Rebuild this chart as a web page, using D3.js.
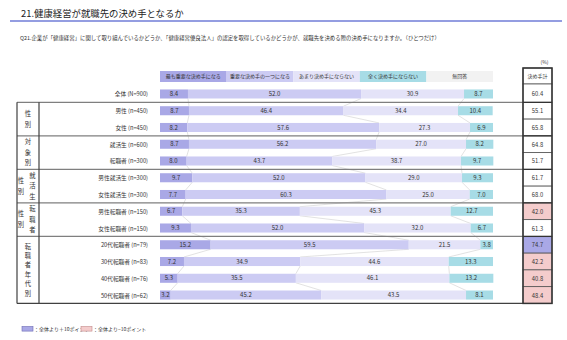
<!DOCTYPE html>
<html>
<head>
<meta charset="utf-8">
<script src="https://cdn.jsdelivr.net/npm/d3@7"></script>
<style>
  body { margin: 0; background: #fff; }
  text { font-family: "Noto Sans CJK JP", "Noto Sans", sans-serif; fill: #333; }
</style>
</head>
<body>
<div id="chart"></div>
<script>
const WIDTH = 567;
const HEIGHT = 340;

// DATA
const rowLabels = [
  "全体 (N=900)", "男性 (n=450)", "女性 (n=450)", "就活生 (n=600)", "転職者 (n=300)",
  "男性就活生 (n=300)", "女性就活生 (n=300)", "男性転職者 (n=150)", "女性転職者 (n=150)",
  "20代転職者 (n=79)", "30代転職者 (n=83)", "40代転職者 (n=76)", "50代転職者 (n=62)"
];
const categories = ["最も重要な決め手になる", "重要な決め手の一つになる", "あまり決め手にならない", "全く決め手にならない", "無回答"];
const mostImportant = [8.4, 8.7, 8.2, 8.7, 8.0, 9.7, 7.7, 6.7, 9.3, 15.2, 7.2, 5.3, 3.2];
const oneOfImportant = [52.0, 46.4, 57.6, 56.2, 43.7, 52.0, 60.3, 35.3, 52.0, 59.5, 34.9, 35.5, 45.2];
const notMuch = [30.9, 34.4, 27.3, 27.0, 38.7, 29.0, 25.0, 45.3, 32.0, 21.5, 44.6, 46.1, 43.5];
const notAtAll = [8.7, 10.4, 6.9, 8.2, 9.7, 9.3, 7.0, 12.7, 6.7, 3.8, 13.3, 13.2, 8.1];
const noAnswer = [0, 0, 0, 0, 0, 0, 0, 0, 0, 0, 0, 0, 0];
const decisiveTotal = [60.4, 55.1, 65.8, 64.8, 51.7, 61.7, 68.0, 42.0, 61.3, 74.7, 42.2, 40.8, 48.4];
const groupLabels = [["性別"], ["対象別"], ["性別", "就活生"], ["性別", "転職者"], ["転職者年代別"]];
const groupFirstRow = [1, 3, 5, 7, 9];
const groupLastRow = [2, 4, 6, 8, 12];

const COLORS = ["#a9a8e6", "#cccbf3", "#e4e3f8", "#a7dce6", "#f2f2f2"];
const PLUS_FILL = "#a9a8e6";
const MINUS_FILL = "#f4cccc";

// CANVAS
const svg = d3.select("#chart")
  .append("svg")
  .attr("width", WIDTH)
  .attr("height", HEIGHT);

// TITLE
svg.append("text")
  .attr("x", 21)
  .attr("y", 17)
  .attr("font-size", "9.4px")
  .style("fill", "#222")
  .text("21.健康経営が就職先の決め手となるか");

svg.append("line")
  .attr("x1", 10).attr("x2", 562)
  .attr("y1", 21).attr("y2", 21)
  .attr("stroke", "#2b3cc4")
  .attr("stroke-width", 1.2);

svg.append("text")
  .attr("x", 20)
  .attr("y", 40)
  .attr("font-size", "5.4px")
  .text("Q21.企業が「健康経営」に関して取り組んでいるかどうか、「健康経営優良法人」の認定を取得しているかどうかが、就職先を決める際の決め手になりますか。（ひとつだけ）");

// SCALE
const x = d3.scaleLinear().domain([0, 100]).range([160, 493]);
const y = d3.scaleBand()
  .domain(rowLabels)
  .range([85.6, 303.4])
  .paddingInner(0.46)
  .paddingOuter(0.23);
const step = y.step();
const top0 = 85.6;
const color = d3.scaleOrdinal().domain(categories).range(COLORS);
const head = d3.scaleBand().domain(categories).range([160, 493]);

// HEADER (legend cells)
const headG = svg.append("g");
headG.selectAll("rect")
  .data(categories)
  .enter()
  .append("rect")
  .attr("x", (d) => head(d))
  .attr("y", 71)
  .attr("width", head.bandwidth())
  .attr("height", 11)
  .attr("fill", (d) => color(d));
headG.selectAll("text")
  .data(categories)
  .enter()
  .append("text")
  .attr("x", (d) => head(d) + head.bandwidth() / 2)
  .attr("y", 78.3)
  .attr("text-anchor", "middle")
  .attr("font-size", "5px")
  .text((d) => d);

// STACK
const rows = rowLabels.map((l, i) => {
  const r = { label: l };
  r[categories[0]] = mostImportant[i];
  r[categories[1]] = oneOfImportant[i];
  r[categories[2]] = notMuch[i];
  r[categories[3]] = notAtAll[i];
  r[categories[4]] = noAnswer[i];
  return r;
});
const series = d3.stack().keys(categories)(rows);

// series lines between bars
const connG = svg.append("g");
series.slice(0, 3).forEach((s) => {
  for (let i = 0; i < s.length - 1; i++) {
    connG.append("line")
      .attr("x1", x(s[i][1]))
      .attr("y1", y(rowLabels[i]) + y.bandwidth())
      .attr("x2", x(s[i + 1][1]))
      .attr("y2", y(rowLabels[i + 1]))
      .attr("stroke", "#cfcfcf")
      .attr("stroke-width", 0.6);
  }
});

// BARS
const layer = svg.append("g")
  .selectAll("g")
  .data(series)
  .enter()
  .append("g")
  .attr("fill", (d) => color(d.key));
layer.selectAll("rect")
  .data((d) => d)
  .enter()
  .append("rect")
  .attr("x", (d) => x(d[0]))
  .attr("y", (d) => y(d.data.label))
  .attr("width", (d) => x(d[1]) - x(d[0]))
  .attr("height", y.bandwidth());

layer.selectAll("text")
  .data((d) => d.filter((v) => v[1] - v[0] > 0))
  .enter()
  .append("text")
  .attr("x", (d) => (x(d[0]) + x(d[1])) / 2)
  .attr("y", (d) => y(d.data.label) + y.bandwidth() / 2 + 2.1)
  .attr("text-anchor", "middle")
  .attr("font-size", "6px")
  .text((d) => d3.format(".1f")(d[1] - d[0]));

// ROW LABELS
svg.append("g")
  .selectAll("text")
  .data(rowLabels)
  .enter()
  .append("text")
  .attr("x", 148)
  .attr("y", (d) => y(d) + y.bandwidth() / 2 + 2.5)
  .attr("text-anchor", "end")
  .attr("font-size", "5.7px")
  .text((d) => d);

// TABLE LINES
const grid = svg.append("g");
groupFirstRow.forEach((r) => {
  grid.append("line")
    .attr("x1", 17).attr("x2", 523)
    .attr("y1", top0 + r * step).attr("y2", top0 + r * step)
    .attr("stroke", "#7f7f7f")
    .attr("stroke-width", 1.3);
});
grid.append("line")
  .attr("x1", 17).attr("x2", 523)
  .attr("y1", top0 + rowLabels.length * step).attr("y2", top0 + rowLabels.length * step)
  .attr("stroke", "#404040")
  .attr("stroke-width", 1.4);
[17, 39].forEach((xx) => {
  grid.append("line")
    .attr("x1", xx).attr("x2", xx)
    .attr("y1", top0 + step).attr("y2", top0 + rowLabels.length * step)
    .attr("stroke", "#404040")
    .attr("stroke-width", 1.2);
});

// GROUP LABELS (vertical)
groupLabels.forEach((cols, g) => {
  const yMid = top0 + ((groupFirstRow[g] + groupLastRow[g] + 1) / 2) * step;
  const colX = cols.length === 1 ? [28] : [21, 32.5];
  const gap = cols[0].length > 4 ? 9.4 : 10.5;
  cols.forEach((txt, c) => {
    const chars = txt.split("");
    const gp = cols.length === 2 && c === 0 ? 11 : gap;
    chars.forEach((ch, k) => {
      svg.append("text")
        .attr("x", colX[c])
        .attr("y", yMid + (k - (chars.length - 1) / 2) * gp + 2.3)
        .attr("text-anchor", "middle")
        .attr("font-size", "6.3px")
        .text(ch);
    });
  });
});

// RIGHT COLUMN (決め手計)
const colX0 = 523, colW = 29;
svg.append("text")
  .attr("x", colX0 + colW / 2 + 7)
  .attr("y", 64)
  .attr("text-anchor", "middle")
  .attr("font-size", "5px")
  .text("(%)");
svg.append("rect")
  .attr("x", colX0).attr("y", 68)
  .attr("width", colW).attr("height", 16)
  .attr("fill", "#fff")
  .attr("stroke", "#555").attr("stroke-width", 0.8);
svg.append("text")
  .attr("x", colX0 + colW / 2)
  .attr("y", 78)
  .attr("text-anchor", "middle")
  .attr("font-size", "5px")
  .text("決め手計");

const cells = svg.append("g");
cells.selectAll("rect")
  .data(decisiveTotal)
  .enter()
  .append("rect")
  .attr("x", colX0)
  .attr("y", (d, i) => (i === 0 ? 84 : top0 + i * step))
  .attr("width", colW)
  .attr("height", (d, i) => (i === 0 ? top0 + step - 84 : step))
  .attr("fill", (d) => {
    const diff = d - decisiveTotal[0];
    if (diff >= 10) return PLUS_FILL;
    if (diff <= -10) return MINUS_FILL;
    return "#fff";
  })
  .attr("stroke", "#555")
  .attr("stroke-width", 0.8);
cells.selectAll("text")
  .data(decisiveTotal)
  .enter()
  .append("text")
  .attr("x", colX0 + colW / 2)
  .attr("y", (d, i) => y(rowLabels[i]) + y.bandwidth() / 2 + 2.5)
  .attr("text-anchor", "middle")
  .attr("font-size", "5.8px")
  .text((d) => d3.format(".1f")(d));
svg.append("rect")
  .attr("x", colX0).attr("y", 68)
  .attr("width", colW).attr("height", top0 + rowLabels.length * step - 68)
  .attr("fill", "none")
  .attr("stroke", "#333").attr("stroke-width", 1.5);
groupFirstRow.forEach((r) => {
  svg.append("line")
    .attr("x1", colX0).attr("x2", colX0 + colW)
    .attr("y1", top0 + r * step).attr("y2", top0 + r * step)
    .attr("stroke", "#333").attr("stroke-width", 1.3);
});

// LEGEND
const legend = [
  { fill: PLUS_FILL, stroke: "#6d6cb4", text: "：全体より＋10ポイント", x: 22 },
  { fill: MINUS_FILL, stroke: "#c48a8a", text: "：全体より−10ポイント", x: 81 }
];
const lg = svg.append("g").selectAll("g").data(legend).enter().append("g");
lg.append("rect")
  .attr("x", (d) => d.x).attr("y", 326.5)
  .attr("width", 11).attr("height", 4.6)
  .attr("fill", (d) => d.fill)
  .attr("stroke", (d) => d.stroke)
  .attr("stroke-width", 0.6);
lg.append("text")
  .attr("x", (d) => d.x + 12)
  .attr("y", 330.6)
  .attr("font-size", "5px")
  .text((d) => d.text);
</script>
</body>
</html>
